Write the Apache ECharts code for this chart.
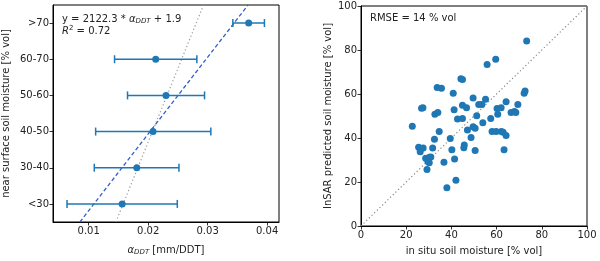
<!DOCTYPE html>
<html><head><meta charset="utf-8">
<script src="https://cdn.jsdelivr.net/npm/echarts@6/dist/echarts.min.js"></script>
<style>html,body{margin:0;padding:0;background:#fff}#c{width:600px;height:261px}</style>
</head><body><div id="c"></div>
<script>
// Left panel data
const categories = ['<30', '30-40', '40-50', '50-60', '60-70', '>70'];
const catMid = [25, 35, 45, 55, 65, 75];
const alphaMean = [0.01563, 0.01809, 0.02082, 0.0230, 0.02127, 0.0369];
const alphaLow = [0.00636, 0.01094, 0.01117, 0.01653, 0.01435, 0.03424];
const alphaHigh = [0.0249, 0.02518, 0.03054, 0.02948, 0.02819, 0.03955];
const fitSlope = 2122.3, fitIntercept = 1.9;
const refSlope = 4070, refIntercept = -39.3;
const leftXTicks = [0.01, 0.02, 0.03, 0.04];

// Right panel data: [in situ, InSAR predicted]
const inSitu = [73.3,59.6,55.8,44.2,44.9,33.7,35.6,40.8,72.6,72.2,49.6,55.1,64.2,26.8,27.4,41.2,44.9,46.7,52.1,53.5,60.2,62.0,69.4,66.4,67.9,68.5,32.7,34.0,60.5,51.2,42.7,44.9,57.4,53.9,49.6,50.5,22.7,47.1,34.6,58.0,59.8,62.1,62.9,64.2,48.7,32.5,39.5,45.7,45.5,25.5,26.2,27.5,31.7,40.2,50.5,63.3,26.2,28.6,30.3,30.9,41.4,29.6,30.2,36.7,29.2,42.0,38.0];
const predicted = [84.1,75.8,73.4,66.9,66.6,62.9,62.6,60.3,61.4,60.3,58.2,57.6,56.5,53.5,53.7,52.8,54.9,53.8,55.2,55.2,53.4,53.7,55.2,51.6,52.0,51.6,50.8,51.6,50.8,50.1,48.6,48.9,48.9,46.9,45.1,44.4,45.3,43.6,42.9,43.0,43.0,42.9,42.6,41.1,40.2,39.4,39.8,36.8,35.6,35.8,35.0,35.5,35.5,34.7,34.3,34.7,33.8,30.8,31.3,31.4,30.5,29.3,28.7,29.0,25.7,20.8,17.4];

const blue = '#1f77b4';
const font = 'DejaVu Sans';
const yLo = 20, yHi = 80;
const fitLine = [yLo, yHi].map(y => [(y - fitIntercept) / fitSlope, y]);
const refLine = [yLo, yHi].map(y => [(y - refIntercept) / refSlope, y]);
const scatterData = inSitu.map((x, i) => [x, predicted[i]]);

const axisCommon = {
  axisLine: {show: true, onZero: false, lineStyle: {color: '#000', width: 1}},
  axisTick: {show: true, length: 3.5, lineStyle: {color: '#000', width: 0.8}},
  axisLabel: {color: '#222', fontFamily: font, fontSize: 10, margin: 4},
  splitLine: {show: false},
  nameTextStyle: {color: '#222', fontFamily: font, fontSize: 10}
};

const chart = echarts.init(document.getElementById('c'), null, {renderer: 'canvas'});
chart.setOption({
  animation: false,
  grid: [
    {left: 53, top: 5, width: 226, height: 222.5, show: true, borderColor: '#000', borderWidth: 1, containLabel: false},
    {left: 361, top: 6, width: 226, height: 221.5, show: true, borderColor: '#000', borderWidth: 1, containLabel: false}
  ],
  xAxis: [
    Object.assign({}, axisCommon, {
      type: 'value', gridIndex: 0, min: 0.004, max: 0.042,
      axisLabel: Object.assign({}, axisCommon.axisLabel, {
        customValues: leftXTicks, formatter: v => v.toFixed(2)
      }),
      axisTick: Object.assign({}, axisCommon.axisTick, {customValues: leftXTicks}),
      name: '{a|α}{s|DDT}{n| [mm/DDT]}', nameLocation: 'middle', nameGap: 22,
      nameTextStyle: {
        color: '#222', fontFamily: font, fontSize: 10,
        rich: {
          a: {fontFamily: font, fontSize: 10, fontStyle: 'italic', color: '#222'},
          s: {fontFamily: font, fontSize: 7, fontStyle: 'italic', color: '#222', padding: [5, 0, 0, 0]},
          n: {fontFamily: font, fontSize: 10, color: '#222'}
        }
      }
    }),
    Object.assign({}, axisCommon, {
      type: 'value', gridIndex: 1, min: 0, max: 100, interval: 20,
      name: 'in situ soil moisture [% vol]', nameLocation: 'middle', nameGap: 20
    })
  ],
  yAxis: [
    Object.assign({}, axisCommon, {
      type: 'category', gridIndex: 0, data: categories, boundaryGap: true,
      axisTick: Object.assign({}, axisCommon.axisTick, {alignWithLabel: true}),
      name: 'near surface soil moisture [% vol]', nameLocation: 'middle', nameGap: 42
    }),
    {type: 'value', gridIndex: 0, min: yLo, max: yHi, show: false},
    Object.assign({}, axisCommon, {
      type: 'value', gridIndex: 1, min: 0, max: 100, interval: 20,
      name: 'InSAR predicted soil moisture [% vol]', nameLocation: 'middle', nameGap: 28
    })
  ],
  series: [
    {
      type: 'line', xAxisIndex: 0, yAxisIndex: 1, data: refLine, symbol: 'none',
      lineStyle: {color: '#999', width: 1.2, type: [1.2, 2.5]}, clip: true, z: 2
    },
    {
      type: 'line', xAxisIndex: 0, yAxisIndex: 1, data: fitLine, symbol: 'none',
      lineStyle: {color: '#2f5fc8', width: 1.3, type: [4, 2.5]}, clip: true, z: 3
    },
    {
      type: 'custom', xAxisIndex: 0, yAxisIndex: 1, z: 4,
      data: catMid.map((y, i) => [alphaLow[i], alphaHigh[i], y]),
      renderItem: function (params, api) {
        const y = api.value(2);
        const p1 = api.coord([api.value(0), y]);
        const p2 = api.coord([api.value(1), y]);
        const h = 4;
        const st = {stroke: blue, lineWidth: 1.5};
        return {type: 'group', children: [
          {type: 'line', shape: {x1: p1[0], y1: p1[1], x2: p2[0], y2: p2[1]}, style: st},
          {type: 'line', shape: {x1: p1[0], y1: p1[1] - h, x2: p1[0], y2: p1[1] + h}, style: st},
          {type: 'line', shape: {x1: p2[0], y1: p2[1] - h, x2: p2[0], y2: p2[1] + h}, style: st}
        ]};
      }
    },
    {
      type: 'scatter', xAxisIndex: 0, yAxisIndex: 1, z: 5,
      data: catMid.map((y, i) => [alphaMean[i], y]),
      symbolSize: 7, itemStyle: {color: blue, opacity: 1}
    },
    {
      type: 'line', xAxisIndex: 1, yAxisIndex: 2, data: [[0, 0], [100, 100]], symbol: 'none',
      lineStyle: {color: '#888', width: 1.2, type: [1.2, 2.5]}, z: 2
    },
    {
      type: 'scatter', xAxisIndex: 1, yAxisIndex: 2, data: scatterData, z: 5,
      symbolSize: 7, itemStyle: {color: blue, opacity: 1}
    }
  ],
  graphic: [
    {
      type: 'text', left: 62, top: 14, z: 10,
      style: {
        text: '{t|y = 2122.3 * }{a|α}{s|DDT}{t| + 1.9}',
        rich: {
          t: {fontFamily: font, fontSize: 10, fill: '#222'},
          a: {fontFamily: font, fontSize: 10, fontStyle: 'italic', fill: '#222'},
          s: {fontFamily: font, fontSize: 7, fontStyle: 'italic', fill: '#222', padding: [5, 0, 0, 0]}
        }
      }
    },
    {
      type: 'text', left: 62, top: 25, z: 10,
      style: {
        text: '{r|R}{p|2}{t| = 0.72}',
        rich: {
          t: {fontFamily: font, fontSize: 10, fill: '#222'},
          r: {fontFamily: font, fontSize: 10, fontStyle: 'italic', fill: '#222'},
          p: {fontFamily: font, fontSize: 7, fill: '#222', padding: [0, 0, 5, 0]}
        }
      }
    },
    {
      type: 'text', left: 370, top: 13, z: 10,
      style: {text: 'RMSE = 14 % vol', fontFamily: font, fontSize: 10, fill: '#222'}
    }
  ]
});
</script></body></html>
